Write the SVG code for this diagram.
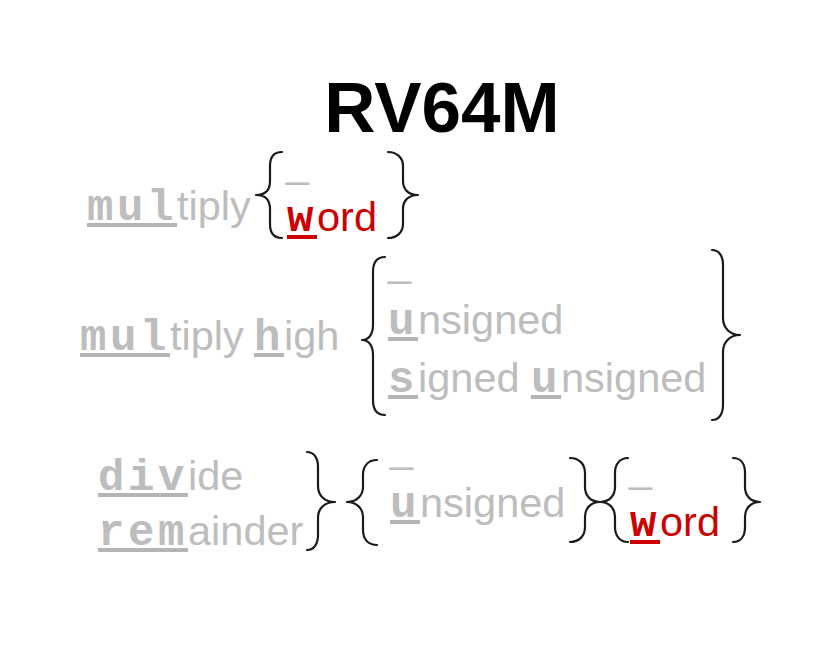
<svg xmlns="http://www.w3.org/2000/svg" width="820" height="666" viewBox="0 0 820 666">
<style>
.s{font-family:"Liberation Sans",Arial,sans-serif;font-size:41.5px}
.m{font-family:"Liberation Mono","Courier New",monospace;font-size:44px;font-weight:bold;letter-spacing:3.6px}
.g{fill:#bdbdbd}
.r{fill:#cc0000}
.ug{fill:#b5b5b5}
.ur{fill:#cc0000}
.br{fill:none;stroke:#1a1a1a;stroke-width:2.2;stroke-linecap:round;stroke-linejoin:round}
.t{font-family:"Liberation Sans",Arial,sans-serif;font-size:71px;font-weight:bold;fill:#000}
</style>
<rect width="820" height="666" fill="#fff"/>
<g id="title"><text class="t" x="442" y="132" text-anchor="middle">RV64M</text></g>

<g id="row1">
<text class="g" y="220"><tspan class="m" x="87">mul</tspan><tspan class="s" x="177">tiply</tspan></text>
<rect class="ug" x="87" y="223" width="90" height="4"/>
<text class="s g" x="286" y="177">_</text>
<text class="r" y="231"><tspan class="m" x="287">w</tspan><tspan class="s" x="317">ord</tspan></text>
<rect class="ur" x="287" y="235" width="30" height="4"/>
</g>

<g id="row2">
<text class="g" y="350"><tspan class="m" x="80">mul</tspan><tspan class="s" x="170">tiply</tspan><tspan class="m" x="254">h</tspan><tspan class="s" x="284">igh</tspan></text>
<rect class="ug" x="80" y="353" width="90" height="4"/>
<rect class="ug" x="254" y="353" width="30" height="4"/>
<text class="s g" x="388" y="276">_</text>
<text class="g" y="334"><tspan class="m" x="388">u</tspan><tspan class="s" x="418">nsigned</tspan></text>
<rect class="ug" x="388" y="337" width="30" height="4"/>
<text class="g" y="392"><tspan class="m" x="388">s</tspan><tspan class="s" x="418">igned</tspan><tspan class="m" x="531">u</tspan><tspan class="s" x="561">nsigned</tspan></text>
<rect class="ug" x="388" y="395" width="30" height="4"/>
<rect class="ug" x="531" y="395" width="30" height="4"/>
</g>

<g id="row3">
<text class="g" y="490"><tspan class="m" x="98">div</tspan><tspan class="s" x="188">ide</tspan></text>
<rect class="ug" x="98" y="493" width="90" height="4"/>
<text class="g" y="545"><tspan class="m" x="98">rem</tspan><tspan class="s" x="188">ainder</tspan></text>
<rect class="ug" x="98" y="548" width="90" height="4"/>
<text class="s g" x="390" y="462">_</text>
<text class="g" y="517"><tspan class="m" x="390">u</tspan><tspan class="s" x="420">nsigned</tspan></text>
<rect class="ug" x="390" y="520" width="30" height="4"/>
<text class="s g" x="629" y="482">_</text>
<text class="r" y="536"><tspan class="m" x="630">w</tspan><tspan class="s" x="660">ord</tspan></text>
<rect class="ur" x="630" y="540" width="30" height="4"/>
</g>

<g id="braces">
<path class="br" d="M282,152 C274,152 270,157 270,166 L270,181 C270,190 265,195 256,195 C265,195 270,200 270,209 L270,224 C270,233 274,238 282,238"/>
<path class="br" d="M388,152 C396,152 403,157 403,166 L403,181 C403,190 409,195 418,195 C409,195 403,200 403,209 L403,224 C403,233 396,238 388,238"/>
<path class="br" d="M385,257 C377,257 373,262 373,272 L373,325 C373,334 369,340 362,340 C369,340 373,346 373,355 L373,400 C373,410 377,415 385,415"/>
<path class="br" d="M712,250 C719,250 723,256 723,265 L723,318 C723,328 730,335 740,335 C730,335 723,342 723,352 L723,405 C723,414 719,420 712,420"/>
<path class="br" d="M307,452 C314,452 318,458 318,467 L318,486 C318,496 325,502 335,502 C325,502 318,508 318,518 L318,535 C318,544 314,550 307,550"/>
<path class="br" d="M377,460 C368,460 363,466 363,475 L363,487 C363,496 356,502 347,502 C356,502 363,508 363,517 L363,530 C363,539 368,545 377,545"/>
<path class="br" d="M570,458 C579,458 585,464 585,473 L585,487 C585,496 591,502 600,502 C591,502 585,508 585,517 L585,527 C585,536 579,542 570,542"/>
<path class="br" d="M628,458 C620,458 615,464 615,473 L615,487 C615,496 609,502 600,502 C609,502 615,508 615,517 L615,527 C615,536 620,542 628,542"/>
<path class="br" d="M733,458 C741,458 745,464 745,473 L745,487 C745,496 751,502 760,502 C751,502 745,508 745,517 L745,527 C745,536 741,542 733,542"/>
</g>
</svg>
